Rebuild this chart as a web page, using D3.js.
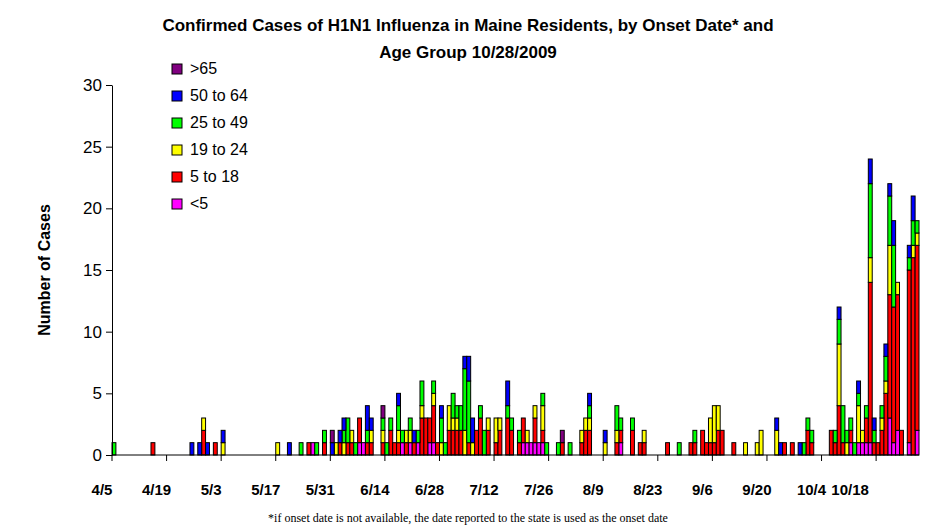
<!DOCTYPE html>
<html>
<head>
<meta charset="utf-8">
<script src="https://cdn.jsdelivr.net/npm/d3@7"></script>
<style>
  body { margin: 0; background: white; }
  text { font-family: "Liberation Sans", Arial, sans-serif; }
</style>
</head>
<body>
<svg id="chart" width="939" height="525"></svg>
<script>
// day index counted from 4/5/2009
const onsetDay = [0,10,20,22,23,24,26,28,42,45, 48,50,51,52,54,56,57,58,59,60,
  61,62,63,64,65,66,69,70,71,72, 73,74,75,76,77,78,79,80,81,82,
  83,84,85,86,87,88,89,90,91,92, 93,94,95,96,98,99,101,102,104,105,
  106,107,108,109,110,111,114,115,117,120, 121,122,126,129,130,133,135,136,142,145,
  148,149,151,152,153,154,155,156,159,162, 165,166,170,171,172,174,176,177,178,179,
  184,185,186,187,188,189,190,191,192,193, 194,195,196,197,198,199,200,201,202,204,
  205,206];
const under5 = [0,0,0,0,0,0,0,0,0,0, 0,0,1,0,0,0,0,0,0,0,
  0,0,1,1,0,0,0,0,0,0, 0,1,0,1,0,1,0,0,1,1,
  0,0,0,0,0,0,0,0,0,0, 0,0,0,0,0,0,0,0,0,1,
  1,1,1,1,1,0,0,0,0,0, 0,0,0,0,1,0,0,0,0,0,
  0,0,0,0,0,0,0,0,0,0, 0,0,0,0,0,0,0,0,0,0,
  0,0,0,0,0,1,0,1,1,1, 1,0,0,0,0,3,1,2,0,1,
  0,2];
const age5to18 = [0,1,0,0,2,0,1,0,0,0, 0,1,0,0,1,0,0,1,0,1,
  1,0,2,0,1,1,1,0,2,1, 1,0,1,0,1,0,3,3,2,3,
  1,0,0,2,2,2,2,0,1,0, 2,3,0,2,1,2,3,2,1,2,
  0,0,2,0,1,0,0,1,0,1, 2,2,0,1,1,2,1,1,1,0,
  1,1,2,1,1,1,2,2,1,0, 0,0,0,0,1,1,0,0,2,1,
  2,1,4,1,0,1,0,0,0,2, 13,1,1,2,5,10,11,11,2,14,
  16,15];
const age19to24 = [0,0,0,0,1,0,0,1,1,0, 0,0,0,0,0,0,1,0,1,0,
  1,0,0,0,0,1,1,0,0,0, 1,0,1,1,0,0,1,0,0,1,
  0,1,0,2,1,1,0,2,0,1, 0,0,0,1,2,1,0,0,0,0,
  1,0,1,0,2,0,0,0,0,1, 1,1,1,1,0,0,0,1,0,0,
  0,0,0,0,2,3,2,0,0,1, 1,2,2,0,0,0,0,0,0,0,
  0,0,5,0,1,0,0,3,1,0, 2,0,0,1,1,4,0,1,0,0,
  1,1];
const age25to49 = [1,0,0,0,0,0,0,0,0,0, 1,0,0,1,1,0,0,0,1,2,
  0,1,0,0,1,0,1,1,1,0, 2,1,0,1,0,1,2,0,0,1,
  0,2,1,0,2,1,2,5,5,0, 0,1,2,0,0,0,1,1,1,0,
  0,0,0,0,1,1,1,0,1,0, 0,1,0,2,1,1,0,0,0,1,
  0,1,0,0,0,0,0,0,0,0, 0,0,0,0,0,0,0,1,1,1,
  0,1,2,3,1,1,1,1,0,1, 6,1,0,1,2,4,5,0,0,1,
  2,1];
const age50to64 = [0,0,1,1,0,1,0,1,0,1, 0,0,0,0,0,1,0,1,1,0,
  0,0,0,0,2,1,0,0,0,0, 1,0,0,0,1,0,0,0,0,0,
  0,1,0,0,0,0,0,1,2,2, 0,0,0,0,0,0,2,0,0,0,
  0,0,0,0,0,0,0,0,0,0, 0,1,1,0,0,0,0,0,0,0,
  0,0,0,0,0,0,0,0,0,0, 0,0,1,1,0,0,1,0,0,0,
  0,0,1,0,0,0,0,1,0,0, 2,1,0,0,1,1,2,0,0,1,
  2,0];
const over65 = [0,0,0,0,0,0,0,0,0,0, 0,0,0,0,0,1,0,0,0,0,
  0,0,0,0,0,0,1,0,0,0, 0,0,0,0,0,0,0,0,0,0,
  0,0,0,0,0,0,0,0,0,0, 0,0,0,0,0,0,0,0,0,0,
  0,0,0,0,0,0,0,1,0,0, 0,0,0,0,0,0,0,0,0,0,
  0,0,0,0,0,0,0,0,0,0, 0,0,0,0,0,0,0,0,0,0,
  0,0,0,0,0,0,0,0,0,0, 0,0,0,0,0,0,0,0,0,0,
  0,0];

const groups = ['<5', '5 to 18', '19 to 24', '25 to 49', '50 to 64', '>65'];
const colors = ['#FF00FF', '#FF0000', '#FFFF00', '#00FF00', '#0000FF', '#800080'];
const tickLabels = ['4/5','4/19','5/3','5/17','5/31','6/14','6/28','7/12','7/26','8/9','8/23','9/6','9/20','10/4','10/18'];
const yTicks = [0, 5, 10, 15, 20, 25, 30];

const series = [under5, age5to18, age19to24, age25to49, age50to64, over65];
const rows = onsetDay.map((d, i) => {
  const r = { day: d };
  groups.forEach((g, k) => r[g] = series[k][i]);
  return r;
});

const svg = d3.select('#chart');
const x = d3.scaleLinear().domain([0, 207]).range([112, 919]);
const y = d3.scaleLinear().domain([0, 30]).range([455, 85]);
const barW = x(1) - x(0);

const stacked = d3.stack().keys(groups)(rows);

svg.append('g').selectAll('g')
  .data(stacked)
  .join('g')
  .attr('fill', (d, i) => colors[i])
  .selectAll('rect')
  .data(d => d.filter(p => p[1] > p[0]))
  .join('rect')
  .attr('x', p => x(p.data.day))
  .attr('width', barW)
  .attr('y', p => y(p[1]))
  .attr('height', p => y(p[0]) - y(p[1]))
  .attr('stroke', 'black')
  .attr('stroke-width', 1);

// y axis
const yAxis = svg.append('g').attr('transform', 'translate(112,0)')
  .call(d3.axisLeft(y).tickValues(yTicks).tickSize(6).tickSizeOuter(0));
yAxis.select('.domain').attr('stroke', 'black');
yAxis.selectAll('text').style('font-size', '17px').attr('x', -10);

// x axis
const xg = svg.append('g').attr('transform', 'translate(0,455)');
xg.append('line').attr('x1', 112).attr('x2', 919).attr('stroke', 'black');
xg.selectAll('line.tick')
  .data(tickLabels)
  .join('line')
  .attr('class', 'tick')
  .attr('x1', (d, i) => x(i * 14)).attr('x2', (d, i) => x(i * 14))
  .attr('y1', 0).attr('y2', 6)
  .attr('stroke', 'black');
xg.selectAll('text')
  .data(tickLabels)
  .join('text')
  .attr('x', (d, i) => x(i * 14) - (i === 14 ? 26 : 10))
  .attr('y', 40)
  .attr('text-anchor', 'middle')
  .style('font-size', '15px')
  .style('font-weight', 'bold')
  .text(d => d);

// title
svg.append('text').attr('x', 468).attr('y', 31).attr('text-anchor', 'middle')
  .style('font-size', '17px').style('font-weight', 'bold')
  .text('Confirmed Cases of H1N1 Influenza in Maine Residents, by Onset Date* and');
svg.append('text').attr('x', 468).attr('y', 58).attr('text-anchor', 'middle')
  .style('font-size', '17px').style('font-weight', 'bold')
  .text('Age Group 10/28/2009');

svg.append('text')
  .attr('transform', 'translate(50,270) rotate(-90)')
  .attr('text-anchor', 'middle')
  .style('font-size', '16px').style('font-weight', 'bold')
  .text('Number of Cases');

// legend, top entry is >65
const legend = svg.append('g').selectAll('g')
  .data(groups.slice().reverse())
  .join('g')
  .attr('transform', (d, i) => `translate(172,${64 + i * 27})`);
legend.append('rect').attr('width', 10).attr('height', 10)
  .attr('fill', (d, i) => colors[5 - i]).attr('stroke', 'black');
legend.append('text').attr('x', 18).attr('y', 10)
  .style('font-size', '16px').text(d => d);

svg.append('text').attr('x', 468).attr('y', 522).attr('text-anchor', 'middle')
  .style('font-family', '"Liberation Serif", "Times New Roman", serif')
  .style('font-size', '12px')
  .text('*if onset date is not available, the date reported to the state is used as the onset date');
</script>
</body>
</html>
